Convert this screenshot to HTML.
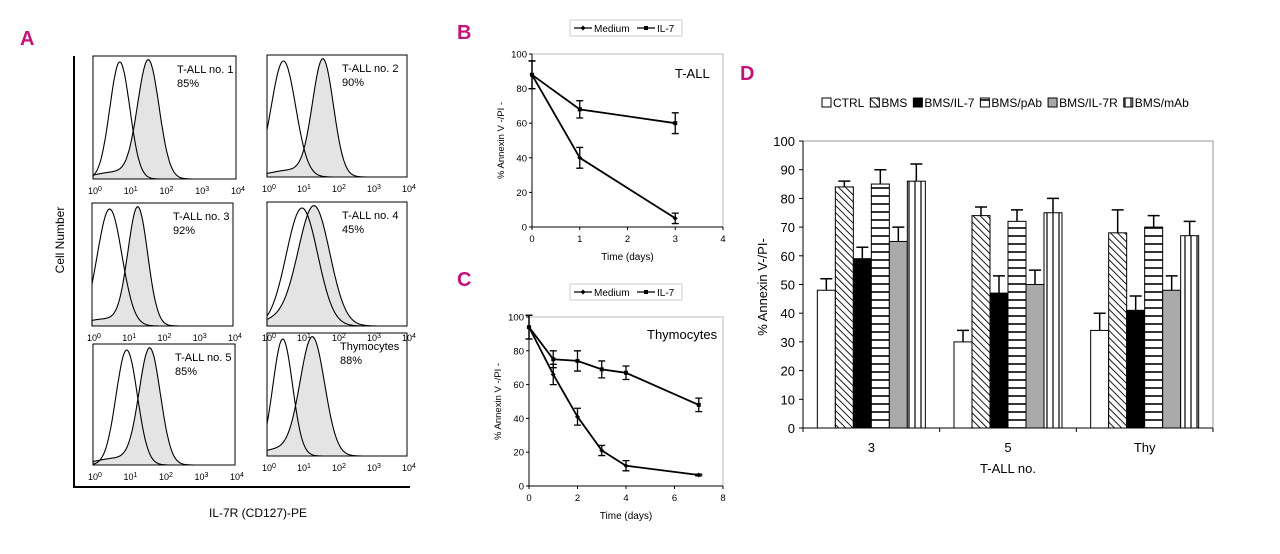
<!DOCTYPE html>
<html><head><meta charset="utf-8"><style>
body{margin:0;background:#fff;}
svg{display:block;font-family:"Liberation Sans",Arial,sans-serif;}
</style></head><body>
<svg id="fig" width="1280" height="554" viewBox="0 0 1280 554" xmlns="http://www.w3.org/2000/svg">
<defs>
<pattern id="pDiag" patternUnits="userSpaceOnUse" width="5" height="5" patternTransform="rotate(-45)"><rect width="5" height="5" fill="#fff"/><line x1="0" y1="0" x2="0" y2="5" stroke="#000" stroke-width="1.8"/></pattern>
<pattern id="pHor" patternUnits="userSpaceOnUse" width="6" height="8"><rect width="6" height="8" fill="#fff"/><line x1="0" y1="4" x2="6" y2="4" stroke="#000" stroke-width="1.6"/></pattern>
<pattern id="pVer" patternUnits="userSpaceOnUse" width="6" height="6"><rect width="6" height="6" fill="#fff"/><line x1="3" y1="0" x2="3" y2="6" stroke="#000" stroke-width="1.2"/></pattern>
</defs>
<g font-size="20" font-weight="bold" fill="#c4127a">
<text x="20" y="45">A</text>
<text x="457" y="39">B</text>
<text x="457" y="286">C</text>
<text x="740" y="80">D</text>
</g>
<g id="panelA"></g>
<g id="panelB"></g>
<g id="panelC"></g>
<g id="panelD"></g>
</svg>
<script>
// ---------- Panel A data ----------
const histNames = ["T-ALL no. 1","T-ALL no. 2","T-ALL no. 3","T-ALL no. 4","T-ALL no. 5","Thymocytes"];
const histPct = ["85%","90%","92%","45%","85%","88%"];
const ctrlPeak = [0.75,0.47,0.5,1.0,0.95,0.45];
const ctrlWidth = [0.28,0.35,0.35,0.45,0.3,0.28];
const stainPeak = [1.55,1.6,1.3,1.35,1.6,1.3];
const stainWidth = [0.3,0.3,0.28,0.45,0.3,0.35];
const decadeLabels = ["0","1","2","3","4"];
// ---------- Panel B data ----------
const bDays = [0,1,3];
const bMedium = [88,40,5];
const bMediumErr = [8,6,3];
const bIL7 = [88,68,60];
const bIL7Err = [8,5,6];
const bXTicks = [0,1,2,3,4];
const bYTicks = [0,20,40,60,80,100];
// ---------- Panel C data ----------
const cDays = [0,1,2,3,4,7];
const cMedium = [94,66,41,21,12,6.5];
const cMediumErr = [7,6,5,3,3,0.5];
const cIL7 = [94,75,74,69,67,48];
const cIL7Err = [7,5,6,5,4,4];
const cXTicks = [0,2,4,6,8];
const cYTicks = [0,20,40,60,80,100];
// ---------- Panel D data ----------
const dCategories = ["3","5","Thy"];
const dSeries = ["CTRL","BMS","BMS/IL-7","BMS/pAb","BMS/IL-7R","BMS/mAb"];
const dCTRL = [48,30,34];
const dBMS = [84,74,68];
const dIL7 = [59,47,41];
const dPAb = [85,72,70];
const dIL7R = [65,50,48];
const dMAb = [86,75,67];
const dErrCTRL = [4,4,6];
const dErrBMS = [2,3,8];
const dErrIL7 = [4,6,5];
const dErrPAb = [5,4,4];
const dErrIL7R = [5,5,5];
const dErrMAb = [6,5,5];
const dYTicks = [0,10,20,30,40,50,60,70,80,90,100];

const NS="http://www.w3.org/2000/svg";
function mk(parent,tag,attrs,text){const e=document.createElementNS(NS,tag);for(const k in attrs)e.setAttribute(k,attrs[k]);if(text!==undefined)e.textContent=text;parent.appendChild(e);return e;}

// ---------- Panel A ----------
(function(){
const g=document.getElementById('panelA');
const frame=mk(g,'path',{d:'M74 56 V487 H410',fill:'none',stroke:'#000','stroke-width':2});


const boxes=[[93,56,143,123],[267,55,140,122],[92,203,141,123],[267,202,140,124],[93,344,142,121],[267,333,140,123]];
const labelOff=[59,65,60,65,60,67];
for(let i=0;i<6;i++){
  const [x,y,w,h]=boxes[i];
  const sg=mk(g,'g',{});
  
  
  const xs=d=>x+d/4*w;
  const ys=v=>y+h-v*(h-6);
  const f=(d,c,s)=>Math.exp(-0.5*Math.pow((d-c)/s,2));
  let stain='M'+x+' '+(y+h), ctrl='';
  for(let k=0;k<=200;k++){
    const d=k/50;
    const vs=f(d,stainPeak[i],stainWidth[i])+0.06*f(d,stainPeak[i]-0.9,0.6);
    const vc=f(d,ctrlPeak[i],ctrlWidth[i]);
    stain+=' L'+xs(d).toFixed(1)+' '+ys(vs).toFixed(1);
    ctrl+=(k?' L':'M')+xs(d).toFixed(1)+' '+ys(vc).toFixed(1);
  }
  stain+=' L'+(x+w)+' '+(y+h)+' Z';
  const sp=mk(sg,'path',{d:stain,fill:'#e4e4e4',stroke:'#000','stroke-width':1.1});
  
  
  const cp=mk(sg,'path',{d:ctrl,fill:'none',stroke:'#000','stroke-width':1.1});
  
  
  const b=mk(sg,'rect',{x:x,y:y,width:w,height:h,fill:'none',stroke:'#000','stroke-width':1});
  
  
  for(let t=0;t<5;t++){
    const tx=mk(sg,'text',{x:xs(t)-5,y:y+h+15,'font-size':9});
    
    
    tx.textContent='10';
    mk(tx,'tspan',{dy:-3,'font-size':7},decadeLabels[t]);
  }
  const t1=mk(sg,'text',{x:x+w-labelOff[i],y:y+17,'font-size':11},histNames[i]);
  
  
  const t2=mk(sg,'text',{x:x+w-labelOff[i],y:y+31,'font-size':11},histPct[i]);
  
  
}
const yl=mk(g,'text',{x:0,y:0,'font-size':12,'text-anchor':'middle',transform:'translate(64 240) rotate(-90)'},'Cell Number');


const xl=mk(g,'text',{x:258,y:517,'font-size':12,'text-anchor':'middle'},'IL-7R (CD127)-PE');


})();

// ---------- line charts ----------
function lineChart(g,o){
  const X=v=>o.x0+(v-o.xmin)/(o.xmax-o.xmin)*(o.x1-o.x0);
  const Y=v=>o.y0-v/100*(o.y0-o.y1);
  const fr=mk(g,'rect',{x:o.x0,y:o.y1,width:o.x1-o.x0,height:o.y0-o.y1,fill:'none',stroke:'#bbb','stroke-width':1});
  
  
  const ax=mk(g,'path',{d:`M${o.x0} ${o.y1} V${o.y0} H${o.x1}`,fill:'none',stroke:'#000','stroke-width':1});
  
  
  o.yt.forEach(v=>{
    mk(g,'line',{x1:o.x0-3,x2:o.x0,y1:Y(v),y2:Y(v),stroke:'#000'});
    const t=mk(g,'text',{x:o.x0-5,y:Y(v)+3.5,'font-size':9.5,'text-anchor':'end'},v);
    
    
  });
  o.xt.forEach(v=>{
    mk(g,'line',{x1:X(v),x2:X(v),y1:o.y0,y2:o.y0+3,stroke:'#000'});
    const t=mk(g,'text',{x:X(v),y:o.y0+15,'font-size':9.5,'text-anchor':'middle'},v);
    
    
  });
  const series=[[o.med,o.medE,'medium'],[o.il7,o.il7E,'il7']];
  series.forEach(([vals,errs,nm])=>{
    const sg=mk(g,'g',{});
    
    
    const pts=o.days.map((d,i)=>X(d).toFixed(1)+','+Y(vals[i]).toFixed(1)).join(' ');
    const pl=mk(sg,'polyline',{points:pts,fill:'none',stroke:'#000','stroke-width':1.8});
    
    
    o.days.forEach((d,i)=>{
      const x=X(d),y=Y(vals[i]),e=errs[i];
      const eb=mk(sg,'path',{d:`M${x} ${Y(vals[i]+e)} V${Y(vals[i]-e)} M${x-3.5} ${Y(vals[i]+e)} h7 M${x-3.5} ${Y(vals[i]-e)} h7`,stroke:'#000','stroke-width':1.3,fill:'none'});
      
      
      const m=nm==='il7'?mk(sg,'rect',{x:x-2,y:y-2,width:4,height:4,fill:'#000'}):mk(sg,'path',{d:`M${x} ${y-2.5} l2.5 2.5 l-2.5 2.5 l-2.5 -2.5z`,fill:'#000'});
      
      
    });
  });
  const lg=mk(g,'g',{});
  
  
  mk(lg,'rect',{x:o.lx,y:o.ly,width:112,height:16,fill:'#fff',stroke:'#ccc'});
  mk(lg,'line',{x1:o.lx+4,x2:o.lx+22,y1:o.ly+8,y2:o.ly+8,stroke:'#000','stroke-width':1.2});
  mk(lg,'path',{d:`M${o.lx+13} ${o.ly+5.5} l2.5 2.5 l-2.5 2.5 l-2.5 -2.5z`,fill:'#000'});
  const l1=mk(lg,'text',{x:o.lx+24,y:o.ly+12,'font-size':10},'Medium');
  
  
  mk(lg,'line',{x1:o.lx+67,x2:o.lx+85,y1:o.ly+8,y2:o.ly+8,stroke:'#000','stroke-width':1.2});
  mk(lg,'rect',{x:o.lx+74,y:o.ly+6,width:4,height:4,fill:'#000'});
  const l2=mk(lg,'text',{x:o.lx+87,y:o.ly+12,'font-size':10},'IL-7');
  
  
  const tt=mk(g,'text',{x:o.tx,y:o.ty,'font-size':13},o.title);
  
  
  const xl=mk(g,'text',{x:(o.x0+o.x1)/2,y:o.y0+33,'font-size':10,'text-anchor':'middle'},'Time (days)');
  
  
  const yl=mk(g,'text',{x:0,y:0,'font-size':9.5,'text-anchor':'middle',transform:`translate(${o.x0-28} ${(o.y0+o.y1)/2}) rotate(-90)`},'% Annexin V -/PI -');
  
  
}
lineChart(document.getElementById('panelB'),{x0:532,x1:723,y0:227,y1:54,xmin:0,xmax:4,days:bDays,med:bMedium,medE:bMediumErr,il7:bIL7,il7E:bIL7Err,xt:bXTicks,yt:bYTicks,lx:570,ly:20,title:'T-ALL',tx:675,ty:78});
lineChart(document.getElementById('panelC'),{x0:529,x1:723,y0:486,y1:317,xmin:0,xmax:8,days:cDays,med:cMedium,medE:cMediumErr,il7:cIL7,il7E:cIL7Err,xt:cXTicks,yt:cYTicks,lx:570,ly:284,title:'Thymocytes',tx:647,ty:339});

// ---------- Panel D ----------
(function(){
const g=document.getElementById('panelD');
const x0=803,x1=1213,y0=428,y1=141;
const Y=v=>y0-v/100*(y0-y1);
const catW=(x1-x0)/dCategories.length, bw=18;
const vals=[dCTRL,dBMS,dIL7,dPAb,dIL7R,dMAb];
const errs=[dErrCTRL,dErrBMS,dErrIL7,dErrPAb,dErrIL7R,dErrMAb];
const fills=['#fff','url(#pDiag)','#000','url(#pHor)','#aaa','url(#pVer)'];
const fr=mk(g,'rect',{x:x0,y:y1,width:x1-x0,height:y0-y1,fill:'none',stroke:'#999','stroke-width':1});


mk(g,'path',{d:`M${x0} ${y1} V${y0} H${x1}`,fill:'none',stroke:'#000','stroke-width':1});
dYTicks.forEach(v=>{
  mk(g,'line',{x1:x0-4,x2:x0,y1:Y(v),y2:Y(v),stroke:'#000'});
  const t=mk(g,'text',{x:x0-8,y:Y(v)+5,'font-size':13,'text-anchor':'end'},v);
  
  
});
for(let c=0;c<=dCategories.length;c++) mk(g,'line',{x1:x0+c*catW,x2:x0+c*catW,y1:y0,y2:y0+4,stroke:'#000'});
dCategories.forEach((cat,c)=>{
  const cx=x0+(c+0.5)*catW;
  const t=mk(g,'text',{x:cx,y:452,'font-size':13,'text-anchor':'middle'},cat);
  
  
  vals.forEach((arr,s)=>{
    const bx=cx-3*bw+s*bw, v=arr[c], e=errs[s][c];
    const r=mk(g,'rect',{x:bx,y:Y(v),width:bw,height:y0-Y(v),fill:fills[s],stroke:'#000','stroke-width':1});
    
    
    const eb=mk(g,'path',{d:`M${bx+bw/2} ${Y(v)} V${Y(v+e)} M${bx+bw/2-6} ${Y(v+e)} h12`,stroke:'#000','stroke-width':1.5,fill:'none'});
    
    
  });
});
const lg=mk(g,'g',{});


let lx=822;
dSeries.forEach((s,i)=>{
  mk(lg,'rect',{x:lx,y:98,width:9,height:9,fill:fills[i],stroke:'#000','stroke-width':1});
  const t=mk(lg,'text',{x:lx+11,y:107,'font-size':12},s);
  
  
  lx+=11+t.getComputedTextLength()+6;
});
const xl=mk(g,'text',{x:1008,y:473,'font-size':13,'text-anchor':'middle'},'T-ALL no.');


const yl=mk(g,'text',{x:0,y:0,'font-size':13,'text-anchor':'middle',transform:'translate(767 287) rotate(-90)'},'% Annexin V-/PI-');


})();
</script>
</body></html>
